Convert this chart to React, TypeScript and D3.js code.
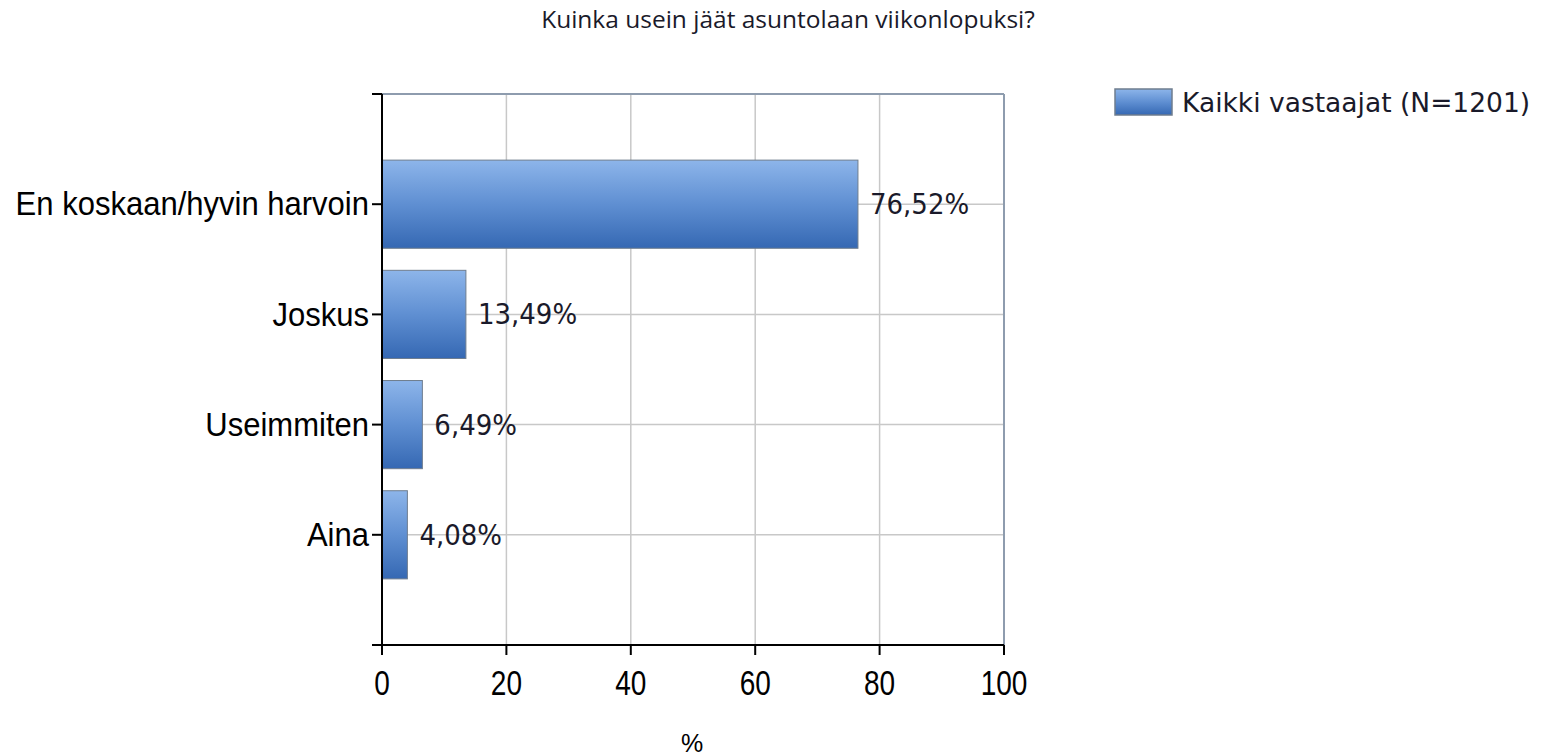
import React from "react";
import * as d3 from "d3";

const title = "Kuinka usein jäät asuntolaan viikonlopuksi?";
const categories = ["En koskaan/hyvin harvoin", "Joskus", "Useimmiten", "Aina"];
const values = [76.52, 13.49, 6.49, 4.08];
const valueLabels = ["76,52%", "13,49%", "6,49%", "4,08%"];
const xTicks = [0, 20, 40, 60, 80, 100];
const seriesName = "Kaikki vastaajat (N=1201)";
const xAxisTitle = "%";

const W = 1541;
const H = 756;
const left = 382;
const right = 1004;
const top = 94;
const bottom = 645;

export default function App() {
  const x = d3.scaleLinear().domain([0, 100]).range([left, right]);
  const y = d3.scaleLinear().domain([0, categories.length + 1]).range([top, bottom]);
  const band = y(1) - y(0);
  const barH = band * 0.8;
  const sans = "'Liberation Sans', Arial, sans-serif";
  return (
    <svg width={W} height={H} style={{ position: "absolute", left: 0, top: 0, background: "#fff" }}>
      <defs>
        <linearGradient id="barGrad" x1="0" y1="0" x2="0" y2="1">
          <stop offset="0" stopColor="#8db5ea" />
          <stop offset="0.5" stopColor="#5f8fd2" />
          <stop offset="1" stopColor="#3568b3" />
        </linearGradient>
      </defs>
      <text x={788} y={28} textAnchor="middle" fontFamily="'Open Sans', sans-serif" fontSize={24.5} fill="#1a1a2a">
        {title}
      </text>
      {/* gridlines */}
      {xTicks.slice(1, -1).map((t) => (
        <line key={"gx" + t} x1={x(t)} x2={x(t)} y1={top} y2={bottom} stroke="#c8c8c8" strokeWidth={1.5} />
      ))}
      {categories.map((c, i) => (
        <line key={"gy" + c} x1={left} x2={right} y1={y(i + 1)} y2={y(i + 1)} stroke="#c8c8c8" strokeWidth={1.5} />
      ))}
      {/* border */}
      <line x1={left} x2={right} y1={top} y2={top} stroke="#8e9cae" strokeWidth={2} />
      <line x1={right} x2={right} y1={top} y2={bottom} stroke="#8e9cae" strokeWidth={2} />
      {/* bars */}
      {categories.map((c, i) => (
        <rect
          key={"b" + c}
          x={x(0)}
          y={y(i + 1) - barH / 2}
          width={x(values[i]) - x(0)}
          height={barH}
          fill="url(#barGrad)"
          stroke="#6f7d8e"
          strokeWidth={1}
        />
      ))}
      {/* value labels */}
      {categories.map((c, i) => (
        <text
          key={"v" + c}
          transform={`translate(${x(values[i]) + 12},${y(i + 1)}) scale(0.93,1)`}
          dy="0.36em"
          fontFamily="'DejaVu Sans', sans-serif"
          fontSize={28}
          fill="#1a1a2a"
        >
          {valueLabels[i]}
        </text>
      ))}
      {/* axes */}
      <line x1={left} x2={left} y1={top} y2={bottom} stroke="#000" strokeWidth={2} />
      <line x1={left - 10} x2={right} y1={bottom} y2={bottom} stroke="#000" strokeWidth={2} />
      <line x1={left - 10} x2={left} y1={top} y2={top} stroke="#000" strokeWidth={2} />
      {categories.map((c, i) => (
        <g key={"yt" + c}>
          <line x1={left - 10} x2={left} y1={y(i + 1)} y2={y(i + 1)} stroke="#000" strokeWidth={2} />
          <text
            transform={`translate(${left - 13},${y(i + 1)}) scale(0.94,1)`}
            dy="0.34em"
            textAnchor="end"
            fontFamily={sans}
            fontSize={33}
            fill="#000"
          >
            {c}
          </text>
        </g>
      ))}
      {xTicks.map((t) => (
        <g key={"xt" + t}>
          <line x1={x(t)} x2={x(t)} y1={bottom} y2={bottom + 10} stroke="#000" strokeWidth={2} />
          <text
            transform={`translate(${x(t)},695) scale(0.8,1)`}
            textAnchor="middle"
            fontFamily={sans}
            fontSize={35}
            fill="#000"
          >
            {t}
          </text>
        </g>
      ))}
      <text x={692} y={752} textAnchor="middle" fontFamily={sans} fontSize={25} fill="#000">
        {xAxisTitle}
      </text>
      {/* legend */}
      <rect x={1115} y={89} width={57} height={26} fill="url(#barGrad)" stroke="#6f7d8e" strokeWidth={1.5} />
      <text x={1182} y={112} fontFamily="'DejaVu Sans', sans-serif" fontSize={26.5} fill="#1a1a2a">
        {seriesName}
      </text>
    </svg>
  );
}
